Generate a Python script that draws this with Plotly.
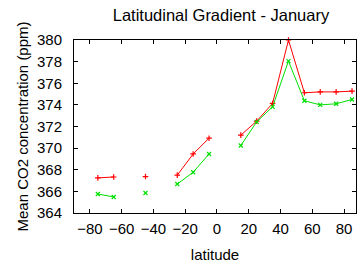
import plotly.graph_objects as go

latitude = [-75, -65, -55, -45, -35, -25, -15, -5, 5, 15, 25, 35, 45, 55, 65, 75, 85]
series_a = [367.25, 367.33, None, 367.37, None, 367.5, 369.46, 370.92, None,
            371.2, 372.5, 374.13, 380.0, 375.12, 375.2, 375.2, 375.27]
series_b = [365.76, 365.48, None, 365.85, None, 366.68, 367.77, 369.46, None,
            370.24, 372.43, 373.82, 378.05, 374.38, 374.0, 374.1, 374.5]
x_ticks = [-80, -60, -40, -20, 0, 20, 40, 60, 80]
y_ticks = [364, 366, 368, 370, 372, 374, 376, 378, 380]

font = "Liberation Sans, Arial, sans-serif"
fig = go.Figure()
fig.add_trace(go.Scatter(x=latitude, y=series_a, mode="lines+markers",
                         line=dict(color="#ff0000", width=1),
                         marker=dict(symbol="cross-thin", size=4, line=dict(color="#ff0000", width=1.2)),
                         connectgaps=False, cliponaxis=False))
fig.add_trace(go.Scatter(x=latitude, y=series_b, mode="lines+markers",
                         line=dict(color="#00e000", width=1),
                         marker=dict(symbol="x-thin", size=4, line=dict(color="#00e000", width=1.2)),
                         connectgaps=False, cliponaxis=False))

axis_common = dict(showgrid=False, zeroline=False, showline=True, mirror="ticks",
                   linecolor="black", linewidth=1, ticks="inside", ticklen=4,
                   tickcolor="black", tickfont=dict(family=font, size=15, color="black"))
fig.update_layout(
    width=357, height=264,
    margin=dict(l=74, r=1, t=40, b=51),
    paper_bgcolor="white", plot_bgcolor="white",
    showlegend=False,
    title=dict(text="Latitudinal Gradient - January", x=0.619, xanchor="center",
               y=0.943, yanchor="middle", font=dict(family=font, size=16.5, color="black")),
    xaxis=dict(range=[-90, 87.5], tickvals=x_ticks, ticklabelstandoff=2, **axis_common,
               title=dict(text="latitude", font=dict(family=font, size=15, color="black"), standoff=13)),
    yaxis=dict(range=[364, 380], tickvals=y_ticks, ticklabelstandoff=8, **axis_common,
               title=dict(text="Mean CO2 concentration (ppm)", font=dict(family=font, size=15, color="black"), standoff=4)),
)
# remove the default page margin so the 357x264 figure fills the window exactly
fig.write_html("out.html", config={"displayModeBar": False},
               post_script="document.body.style.margin='0';document.body.style.overflow='hidden';")
